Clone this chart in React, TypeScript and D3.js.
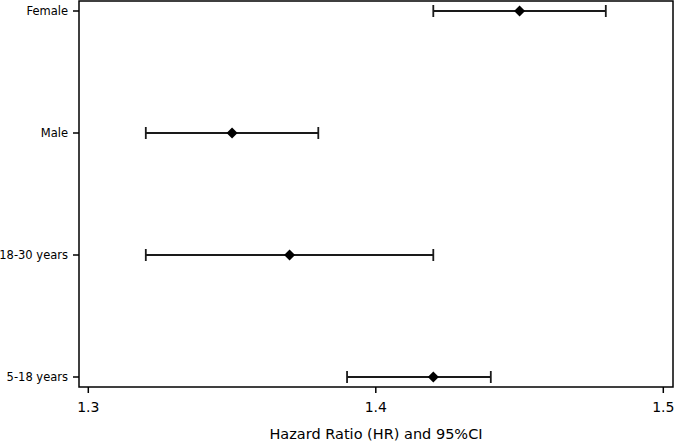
import React from "react";
import * as d3 from "d3";

const categories = ["Female", "Male", "18-30 years", "5-18 years"];
const hr = [1.45, 1.35, 1.37, 1.42];
const lower = [1.42, 1.32, 1.32, 1.39];
const upper = [1.48, 1.38, 1.42, 1.44];
const xTicks = [1.3, 1.4, 1.5];
const xTitle = "Hazard Ratio (HR) and 95%CI";

const W = 675, H = 443;
const frame = { left: 79, right: 673, top: 1, bottom: 387 };

export default function App() {
  const x = d3.scaleLinear().domain([1.3, 1.5]).range([88.3, 663.3]);
  const y = d3.scalePoint<string>().domain(categories).range([11, 377]);
  const font = "'DejaVu Sans', Verdana, sans-serif";
  const cap = 6;
  const dm = 5.5;
  return (
    <svg width={W} height={H} style={{ position: "absolute", left: 0, top: 0, background: "#fff" }}>
      <rect x={frame.left} y={frame.top} width={frame.right - frame.left} height={frame.bottom - frame.top}
        fill="none" stroke="#000" strokeWidth={1.5} />
      {xTicks.map((t) => (
        <g key={t}>
          <line x1={x(t)} x2={x(t)} y1={frame.bottom} y2={frame.bottom + 6} stroke="#000" strokeWidth={1.5} />
          <text x={x(t)} y={412} textAnchor="middle" fontFamily={font} fontSize={14} fill="#000">{d3.format(".1f")(t)}</text>
        </g>
      ))}
      <text x={(frame.left + frame.right) / 2 - 0} y={439} textAnchor="middle" fontFamily={font} fontSize={14.5} fill="#000">{xTitle}</text>
      {categories.map((c, i) => {
        const yy = y(c)!;
        return (
          <g key={c}>
            <line x1={frame.left - 6} x2={frame.left} y1={yy} y2={yy} stroke="#000" strokeWidth={1.5} />
            <text x={frame.left - 11} y={yy} dy="0.35em" textAnchor="end" fontFamily={font} fontSize={11.5} fill="#000">{c}</text>
            <line x1={x(lower[i])} x2={x(upper[i])} y1={yy} y2={yy} stroke="#1a1a1a" strokeWidth={1.8} />
            <line x1={x(lower[i])} x2={x(lower[i])} y1={yy - cap} y2={yy + cap} stroke="#1a1a1a" strokeWidth={1.8} />
            <line x1={x(upper[i])} x2={x(upper[i])} y1={yy - cap} y2={yy + cap} stroke="#1a1a1a" strokeWidth={1.8} />
            <path d={`M${x(hr[i])},${yy - dm} L${x(hr[i]) + dm},${yy} L${x(hr[i])},${yy + dm} L${x(hr[i]) - dm},${yy} Z`} fill="#000" />
          </g>
        );
      })}
    </svg>
  );
}
